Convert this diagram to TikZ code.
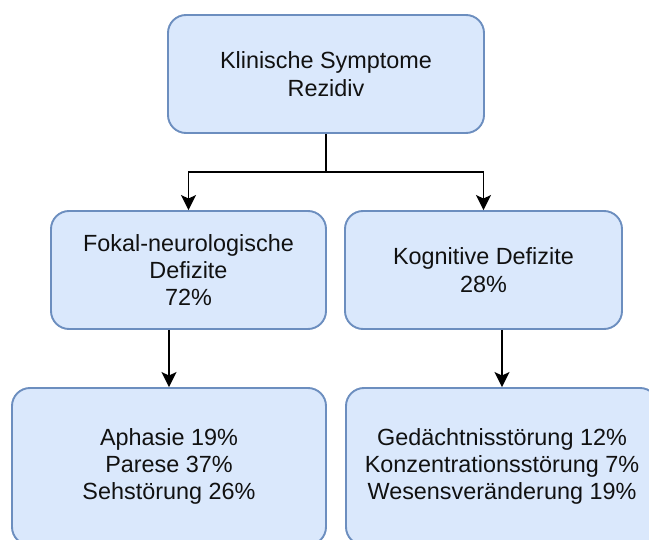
\documentclass[tikz,border=0pt]{standalone}
\usepackage{fontspec}
\setmainfont{Liberation Sans}
\usetikzlibrary{arrows.meta}
\definecolor{boxfill}{HTML}{DAE8FC}
\definecolor{boxline}{HTML}{6C8EBF}
\definecolor{txt}{HTML}{111111}
\tikzset{
  box/.style={draw=boxline, fill=boxfill, line width=1.9pt, rounded corners=18pt,
    align=center, inner sep=0pt, text=txt, font=\fontsize{23.4}{27.4}\selectfont},
  arr/.style={draw=black, line width=1.8pt, -{Stealth[length=15pt,width=15pt,inset=3.5pt]}}
}
\begin{document}
\begin{tikzpicture}[x=1pt,y=-1pt]
\useasboundingbox (0,0) rectangle (649,540);
\clip (0,0) rectangle (649,540);
\node[box, minimum width=316pt, minimum height=118pt] (top) at (326,74) {Klinische Symptome\\Rezidiv};
\node[box, minimum width=275pt, minimum height=118pt] (ml) at (188.5,270) {Fokal-neurologische\\Defizite\\72\%};
\node[box, minimum width=277pt, minimum height=118pt] (mr) at (483.5,270) {Kognitive Defizite\\28\%};
\node[box, minimum width=314pt, minimum height=157pt] (bl) at (169,466.5) {Aphasie 19\%\\Parese 37\%\\Sehstörung 26\%};
\node[box, minimum width=312pt, minimum height=157pt] (br) at (502,466.5) {Gedächtnisstörung 12\%\\Konzentrationsstörung 7\%\\Wesensveränderung 19\%};
\coordinate (split) at (326,172);
\draw[line width=1.8pt] (top.south) -- (split);
\draw[arr] (split) -| (ml.north);
\draw[arr] (split) -| (mr.north);
\draw[arr] (ml.south -| bl.north) -- (bl.north);
\draw[arr] (mr.south -| br.north) -- (br.north);
\end{tikzpicture}
\end{document}
